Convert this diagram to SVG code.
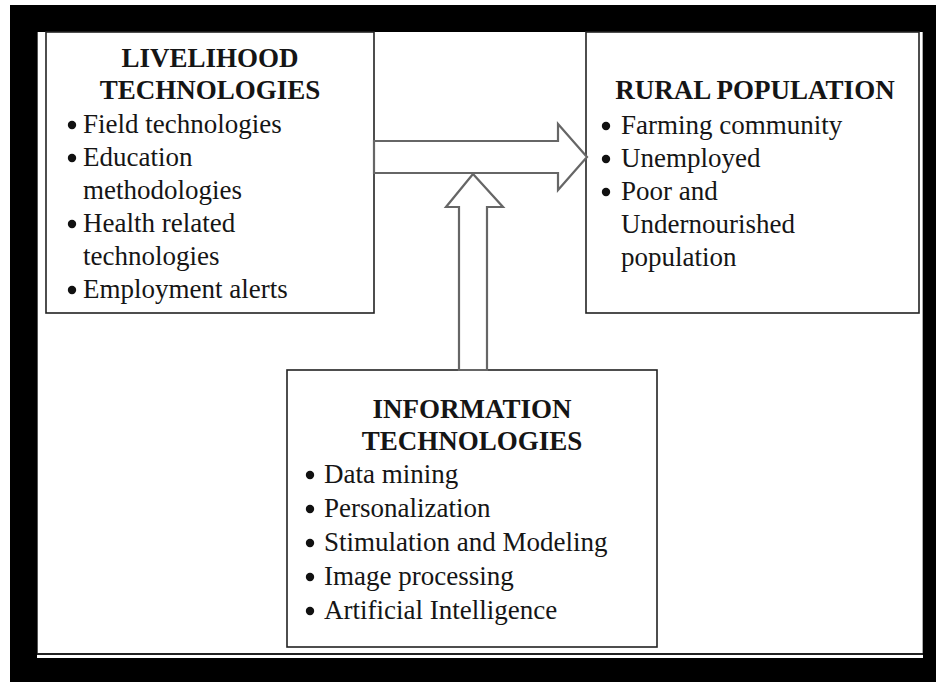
<svg xmlns="http://www.w3.org/2000/svg" width="936" height="682" viewBox="0 0 936 682">
<style>
.box{fill:#fff;stroke:#222;stroke-width:1.6}
.ttl{font-family:"Liberation Serif","Times New Roman",serif;font-weight:bold;font-size:27px;fill:#151515;text-anchor:middle}
.txt{font-family:"Liberation Serif","Times New Roman",serif;font-size:27px;fill:#151515}
.bul{fill:#111}
.arr{fill:#fff;stroke:#666;stroke-width:2.2;stroke-linejoin:miter}
</style>
<rect x="0" y="0" width="936" height="682" fill="#fff"/>
<path d="M10 5H936V682H10Z M37 32V658H923V32Z" fill="#000" fill-rule="evenodd"/>
<line x1="37.5" y1="32" x2="37.5" y2="654" stroke="#555" stroke-width="1"/>
<line x1="922.5" y1="32" x2="922.5" y2="654" stroke="#aaa" stroke-width="1"/>
<line x1="37" y1="654" x2="923" y2="654" stroke="#222" stroke-width="2"/>

<g id="livelihood">
<rect class="box" x="46" y="32" width="328" height="281"/>
<text class="ttl" x="210" y="67">LIVELIHOOD</text>
<text class="ttl" x="210" y="99">TECHNOLOGIES</text>
<g class="bul"><circle cx="72" cy="125" r="4.2"/><circle cx="72" cy="158" r="4.2"/><circle cx="72" cy="224" r="4.2"/><circle cx="72" cy="290" r="4.2"/></g>
<text class="txt" x="83" y="133">Field technologies</text>
<text class="txt" x="83" y="166">Education</text>
<text class="txt" x="83" y="199">methodologies</text>
<text class="txt" x="83" y="232">Health related</text>
<text class="txt" x="83" y="265">technologies</text>
<text class="txt" x="83" y="298">Employment alerts</text>
</g>

<g id="rural">
<rect class="box" x="586" y="32" width="333" height="281"/>
<text class="ttl" x="755" y="99">RURAL POPULATION</text>
<g class="bul"><circle cx="606" cy="126" r="4.2"/><circle cx="606" cy="159" r="4.2"/><circle cx="606" cy="192" r="4.2"/></g>
<text class="txt" x="621" y="134">Farming community</text>
<text class="txt" x="621" y="167">Unemployed</text>
<text class="txt" x="621" y="200">Poor and</text>
<text class="txt" x="621" y="233">Undernourished</text>
<text class="txt" x="621" y="266">population</text>
</g>

<g id="information">
<rect class="box" x="287" y="370" width="370" height="277"/>
<text class="ttl" x="472" y="418">INFORMATION</text>
<text class="ttl" x="472" y="450">TECHNOLOGIES</text>
<g class="bul"><circle cx="310" cy="475" r="4.2"/><circle cx="310" cy="509" r="4.2"/><circle cx="310" cy="543" r="4.2"/><circle cx="310" cy="577" r="4.2"/><circle cx="310" cy="611" r="4.2"/></g>
<text class="txt" x="324" y="483">Data mining</text>
<text class="txt" x="324" y="517">Personalization</text>
<text class="txt" x="324" y="551">Stimulation and Modeling</text>
<text class="txt" x="324" y="585">Image processing</text>
<text class="txt" x="324" y="619">Artificial Intelligence</text>
</g>

<g id="connectors">
<path class="arr" d="M374 141H558V124L587 157L558 190V173H374Z"/>
<path class="arr" d="M459 370V207H446L473 174L503 207H487V370Z"/>
</g>
</svg>
